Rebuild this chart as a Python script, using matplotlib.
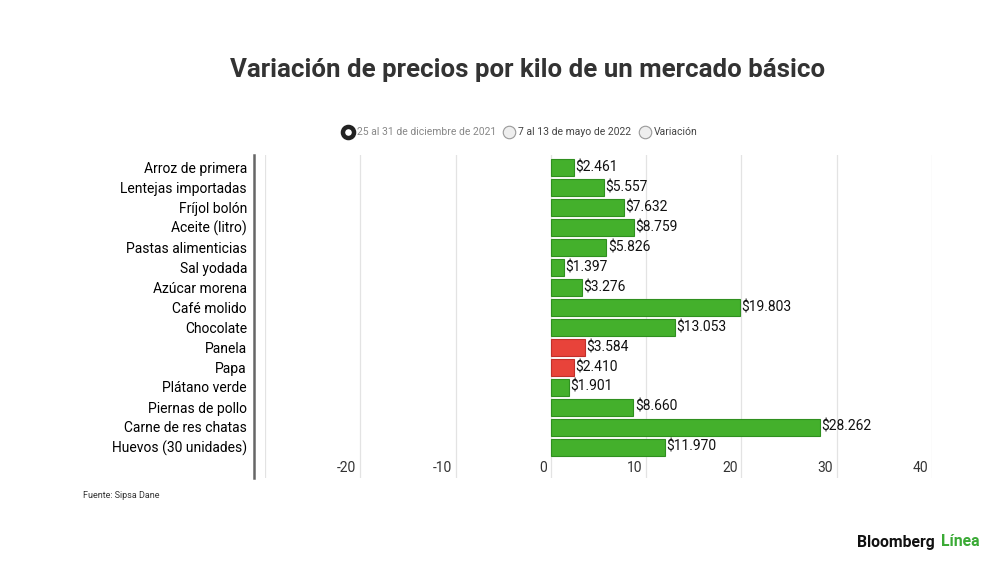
import numpy as np
import matplotlib.pyplot as plt

categorias = ['Arroz de primera', 'Lentejas importadas', 'Fríjol bolón', 'Aceite (litro)',
              'Pastas alimenticias', 'Sal yodada', 'Azúcar morena', 'Café molido',
              'Chocolate', 'Panela', 'Papa', 'Plátano verde', 'Piernas de pollo',
              'Carne de res chatas', 'Huevos (30 unidades)']
precios = [2.461, 5.557, 7.632, 8.759, 5.826, 1.397, 3.276, 19.803,
           13.053, 3.584, 2.410, 1.901, 8.660, 28.262, 11.970]
baja = ['Panela', 'Papa']
ticks = [-30, -20, -10, 0, 10, 20, 30, 40]

plt.rcParams['font.family'] = ['Roboto', 'DejaVu Sans']

fig = plt.figure(figsize=(10, 5.62), dpi=100)
ax = fig.add_axes([0.265, 1 - 478/562, 0.932 - 0.265, (478 - 155)/562])

verde = '#44b02c'
rojo = '#e8433a'
y = np.arange(len(categorias))
colores = [rojo if c in baja else verde for c in categorias]
bordes = ['#c0302a' if c in baja else '#2f8f1f' for c in categorias]
ax.barh(y, precios, height=0.85, color=colores, edgecolor=bordes, linewidth=0.8, zorder=3)

for yi, v in zip(y, precios):
    etiqueta = '$' + f'{v:.3f}'
    ax.text(v + 0.15, yi, etiqueta, ha='left', va='center', fontsize=10, color='#111', zorder=4)

ax.set_xlim(-30, 40)
ax.set_ylim(15.55, -0.6)
for t in ticks:
    ax.axvline(t, color='#e3e3e3', linewidth=0.9, zorder=1)
    if t != -30:
        ax.text(t - 0.4, 15.05, str(t), ha='right', va='center', fontsize=10, color='#333')

ax.set_xticks([])
ax.set_yticks(y)
ax.set_yticklabels(categorias, fontsize=10, color='#222')
ax.tick_params(axis='y', length=0, pad=5)
for s in ['top', 'right', 'bottom']:
    ax.spines[s].set_visible(False)
ax.spines['left'].set_position(('outward', 8))
ax.spines['left'].set_color('#666')
ax.spines['left'].set_linewidth(1.8)

fig.text(0.528, 1 - 70/562, 'Variación de precios por kilo de un mercado básico',
         ha='center', va='center', fontsize=18.6, fontweight='bold', color='#333')

# leyenda tipo radio
ly = 1 - 132/562
fig.add_artist(plt.Line2D([0.348], [ly], marker='o', markersize=8, markerfacecolor='white',
                          markeredgecolor='#222', markeredgewidth=3.2, transform=fig.transFigure))
fig.text(0.357, ly, '25 al 31 de diciembre de 2021', ha='left', va='center', fontsize=7.5, color='#888')
fig.add_artist(plt.Line2D([0.509], [ly], marker='o', markersize=9, markerfacecolor='#eee',
                          markeredgecolor='#999', markeredgewidth=0.8, transform=fig.transFigure))
fig.text(0.518, ly, '7 al 13 de mayo de 2022', ha='left', va='center', fontsize=7.5, color='#444')
fig.add_artist(plt.Line2D([0.645], [ly], marker='o', markersize=9, markerfacecolor='#eee',
                          markeredgecolor='#999', markeredgewidth=0.8, transform=fig.transFigure))
fig.text(0.654, ly, 'Variación', ha='left', va='center', fontsize=7.5, color='#444')

fig.text(0.083, 1 - 496/562, 'Fuente: Sipsa Dane', ha='left', va='center', fontsize=6.5, color='#333')

fig.text(0.857, 1 - 542/562, 'Bloomberg', ha='left', va='center', fontsize=11.3,
         fontweight='bold', color='#111')
fig.text(0.98, 1 - 542/562, 'Línea', ha='right', va='center', fontsize=11.3,
         fontweight='bold', color='#3aaa35')

plt.savefig('out.png', dpi=100, facecolor='white')
